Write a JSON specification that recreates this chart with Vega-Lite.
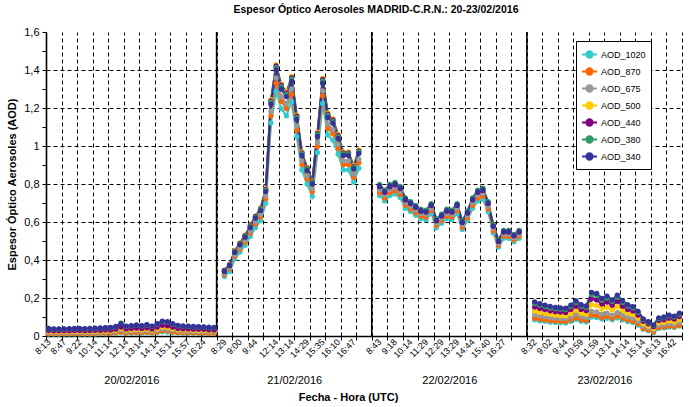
{
  "$schema": "https://vega.github.io/schema/vega-lite/v6.json",
  "width": 636,
  "height": 304,
  "autosize": {"type": "none"},
  "padding": {"left": 46, "top": 32, "right": 10, "bottom": 71},
  "background": "white",
  "config": {
    "font": "Liberation Sans",
    "view": {"stroke": null},
    "axis": {"labelColor": "black", "titleColor": "black", "tickColor": "black", "domainColor": "black"}
  },
  "title": {
    "text": "Espesor Óptico Aerosoles MADRID-C.R.N.: 20-23/02/2016",
    "fontSize": 10.5,
    "fontWeight": "bold",
    "color": "black",
    "anchor": "middle",
    "offset": 11,
    "dx": 12
  },
  "resolve": {"axis": {"x": "independent", "y": "independent"}, "legend": {"color": "independent"}},
  "datasets": {
    "ranks": [
      {"s": "AOD_1020", "r": 0}, {"s": "AOD_870", "r": 1}, {"s": "AOD_675", "r": 2},
      {"s": "AOD_500", "r": 3}, {"s": "AOD_440", "r": 4}, {"s": "AOD_380", "r": 5}, {"s": "AOD_340", "r": 6}
    ],
    "divs": [{"x": 32.5}, {"x": 62.5}, {"x": 92.5}],
    "aod": [
      {"i":0,"d":"1","AOD_1020":0.011,"AOD_870":0.013,"AOD_675":0.019,"AOD_500":0.024,"AOD_440":0.029,"AOD_380":0.038,"AOD_340":0.040},
      {"i":1,"d":"1","AOD_1020":0.011,"AOD_870":0.013,"AOD_675":0.018,"AOD_500":0.023,"AOD_440":0.027,"AOD_380":0.036,"AOD_340":0.038},
      {"i":2,"d":"1","AOD_1020":0.010,"AOD_870":0.012,"AOD_675":0.018,"AOD_500":0.022,"AOD_440":0.027,"AOD_380":0.036,"AOD_340":0.037},
      {"i":3,"d":"1","AOD_1020":0.011,"AOD_870":0.013,"AOD_675":0.018,"AOD_500":0.023,"AOD_440":0.027,"AOD_380":0.036,"AOD_340":0.038},
      {"i":4,"d":"1","AOD_1020":0.011,"AOD_870":0.013,"AOD_675":0.019,"AOD_500":0.023,"AOD_440":0.028,"AOD_380":0.037,"AOD_340":0.039},
      {"i":5,"d":"1","AOD_1020":0.011,"AOD_870":0.013,"AOD_675":0.019,"AOD_500":0.024,"AOD_440":0.029,"AOD_380":0.038,"AOD_340":0.040},
      {"i":6,"d":"1","AOD_1020":0.011,"AOD_870":0.013,"AOD_675":0.019,"AOD_500":0.024,"AOD_440":0.029,"AOD_380":0.038,"AOD_340":0.040},
      {"i":7,"d":"1","AOD_1020":0.011,"AOD_870":0.013,"AOD_675":0.019,"AOD_500":0.023,"AOD_440":0.028,"AOD_380":0.037,"AOD_340":0.039},
      {"i":8,"d":"1","AOD_1020":0.011,"AOD_870":0.013,"AOD_675":0.019,"AOD_500":0.024,"AOD_440":0.029,"AOD_380":0.038,"AOD_340":0.040},
      {"i":9,"d":"1","AOD_1020":0.011,"AOD_870":0.014,"AOD_675":0.020,"AOD_500":0.025,"AOD_440":0.030,"AOD_380":0.039,"AOD_340":0.041},
      {"i":10,"d":"1","AOD_1020":0.012,"AOD_870":0.014,"AOD_675":0.020,"AOD_500":0.025,"AOD_440":0.030,"AOD_380":0.040,"AOD_340":0.042},
      {"i":11,"d":"1","AOD_1020":0.012,"AOD_870":0.015,"AOD_675":0.021,"AOD_500":0.026,"AOD_440":0.032,"AOD_380":0.042,"AOD_340":0.044},
      {"i":12,"d":"1","AOD_1020":0.013,"AOD_870":0.015,"AOD_675":0.022,"AOD_500":0.027,"AOD_440":0.032,"AOD_380":0.043,"AOD_340":0.045},
      {"i":13,"d":"1","AOD_1020":0.014,"AOD_870":0.017,"AOD_675":0.024,"AOD_500":0.030,"AOD_440":0.036,"AOD_380":0.048,"AOD_340":0.050},
      {"i":14,"d":"1","AOD_1020":0.018,"AOD_870":0.021,"AOD_675":0.031,"AOD_500":0.039,"AOD_440":0.047,"AOD_380":0.068,"AOD_340":0.065},
      {"i":15,"d":"1","AOD_1020":0.015,"AOD_870":0.017,"AOD_675":0.025,"AOD_500":0.031,"AOD_440":0.037,"AOD_380":0.050,"AOD_340":0.052},
      {"i":16,"d":"1","AOD_1020":0.015,"AOD_870":0.018,"AOD_675":0.026,"AOD_500":0.033,"AOD_440":0.040,"AOD_380":0.053,"AOD_340":0.055},
      {"i":17,"d":"1","AOD_1020":0.016,"AOD_870":0.019,"AOD_675":0.028,"AOD_500":0.035,"AOD_440":0.042,"AOD_380":0.056,"AOD_340":0.058},
      {"i":18,"d":"1","AOD_1020":0.015,"AOD_870":0.018,"AOD_675":0.026,"AOD_500":0.033,"AOD_440":0.040,"AOD_380":0.053,"AOD_340":0.055},
      {"i":19,"d":"1","AOD_1020":0.017,"AOD_870":0.020,"AOD_675":0.029,"AOD_500":0.036,"AOD_440":0.043,"AOD_380":0.058,"AOD_340":0.060},
      {"i":20,"d":"1","AOD_1020":0.015,"AOD_870":0.017,"AOD_675":0.025,"AOD_500":0.031,"AOD_440":0.037,"AOD_380":0.050,"AOD_340":0.052},
      {"i":21,"d":"1","AOD_1020":0.018,"AOD_870":0.021,"AOD_675":0.031,"AOD_500":0.039,"AOD_440":0.047,"AOD_380":0.062,"AOD_340":0.065},
      {"i":22,"d":"1","AOD_1020":0.022,"AOD_870":0.028,"AOD_675":0.037,"AOD_500":0.047,"AOD_440":0.056,"AOD_380":0.075,"AOD_340":0.078},
      {"i":23,"d":"1","AOD_1020":0.021,"AOD_870":0.027,"AOD_675":0.036,"AOD_500":0.045,"AOD_440":0.054,"AOD_380":0.072,"AOD_340":0.075},
      {"i":24,"d":"1","AOD_1020":0.018,"AOD_870":0.021,"AOD_675":0.031,"AOD_500":0.039,"AOD_440":0.047,"AOD_380":0.062,"AOD_340":0.065},
      {"i":25,"d":"1","AOD_1020":0.016,"AOD_870":0.018,"AOD_675":0.027,"AOD_500":0.034,"AOD_440":0.040,"AOD_380":0.054,"AOD_340":0.056},
      {"i":26,"d":"1","AOD_1020":0.015,"AOD_870":0.017,"AOD_675":0.025,"AOD_500":0.032,"AOD_440":0.038,"AOD_380":0.051,"AOD_340":0.053},
      {"i":27,"d":"1","AOD_1020":0.015,"AOD_870":0.017,"AOD_675":0.025,"AOD_500":0.031,"AOD_440":0.037,"AOD_380":0.050,"AOD_340":0.052},
      {"i":28,"d":"1","AOD_1020":0.014,"AOD_870":0.017,"AOD_675":0.024,"AOD_500":0.030,"AOD_440":0.036,"AOD_380":0.048,"AOD_340":0.050},
      {"i":29,"d":"1","AOD_1020":0.014,"AOD_870":0.016,"AOD_675":0.024,"AOD_500":0.029,"AOD_440":0.035,"AOD_380":0.047,"AOD_340":0.049},
      {"i":30,"d":"1","AOD_1020":0.013,"AOD_870":0.016,"AOD_675":0.023,"AOD_500":0.029,"AOD_440":0.035,"AOD_380":0.046,"AOD_340":0.048},
      {"i":31,"d":"1","AOD_1020":0.013,"AOD_870":0.015,"AOD_675":0.022,"AOD_500":0.028,"AOD_440":0.033,"AOD_380":0.044,"AOD_340":0.046},
      {"i":32,"d":"1","AOD_1020":0.013,"AOD_870":0.015,"AOD_675":0.022,"AOD_500":0.027,"AOD_440":0.032,"AOD_380":0.043,"AOD_340":0.045},
      {"i":34,"d":"2","AOD_1020":0.313,"AOD_870":0.323,"AOD_675":0.330,"AOD_500":0.347,"AOD_440":0.345,"AOD_380":0.343,"AOD_340":0.34},
      {"i":35,"d":"2","AOD_1020":0.340,"AOD_870":0.352,"AOD_675":0.359,"AOD_500":0.377,"AOD_440":0.376,"AOD_380":0.374,"AOD_340":0.37},
      {"i":36,"d":"2","AOD_1020":0.405,"AOD_870":0.418,"AOD_675":0.427,"AOD_500":0.449,"AOD_440":0.447,"AOD_380":0.444,"AOD_340":0.44},
      {"i":37,"d":"2","AOD_1020":0.442,"AOD_870":0.456,"AOD_675":0.466,"AOD_500":0.490,"AOD_440":0.487,"AOD_380":0.485,"AOD_340":0.48},
      {"i":38,"d":"2","AOD_1020":0.478,"AOD_870":0.494,"AOD_675":0.504,"AOD_500":0.530,"AOD_440":0.528,"AOD_380":0.525,"AOD_340":0.52},
      {"i":39,"d":"2","AOD_1020":0.524,"AOD_870":0.542,"AOD_675":0.553,"AOD_500":0.581,"AOD_440":0.579,"AOD_380":0.576,"AOD_340":0.57},
      {"i":40,"d":"2","AOD_1020":0.570,"AOD_870":0.589,"AOD_675":0.601,"AOD_500":0.632,"AOD_440":0.629,"AOD_380":0.626,"AOD_340":0.62},
      {"i":41,"d":"2","AOD_1020":0.607,"AOD_870":0.627,"AOD_675":0.640,"AOD_500":0.673,"AOD_440":0.670,"AOD_380":0.667,"AOD_340":0.66},
      {"i":42,"d":"2","AOD_1020":0.699,"AOD_870":0.722,"AOD_675":0.737,"AOD_500":0.775,"AOD_440":0.771,"AOD_380":0.768,"AOD_340":0.76},
      {"i":43,"d":"2","AOD_1020":1.122,"AOD_870":1.159,"AOD_675":1.183,"AOD_500":1.244,"AOD_440":1.238,"AOD_380":1.232,"AOD_340":1.22},
      {"i":44,"d":"2","AOD_1020":1.288,"AOD_870":1.33,"AOD_675":1.358,"AOD_500":1.428,"AOD_440":1.421,"AOD_380":1.414,"AOD_340":1.40},
      {"i":45,"d":"2","AOD_1020":1.196,"AOD_870":1.235,"AOD_675":1.261,"AOD_500":1.326,"AOD_440":1.32,"AOD_380":1.313,"AOD_340":1.30},
      {"i":46,"d":"2","AOD_1020":1.159,"AOD_870":1.197,"AOD_675":1.222,"AOD_500":1.285,"AOD_440":1.279,"AOD_380":1.273,"AOD_340":1.26},
      {"i":47,"d":"2","AOD_1020":1.233,"AOD_870":1.273,"AOD_675":1.30,"AOD_500":1.367,"AOD_440":1.36,"AOD_380":1.353,"AOD_340":1.34},
      {"i":48,"d":"2","AOD_1020":1.049,"AOD_870":1.083,"AOD_675":1.106,"AOD_500":1.163,"AOD_440":1.157,"AOD_380":1.151,"AOD_340":1.14},
      {"i":49,"d":"2","AOD_1020":0.874,"AOD_870":0.903,"AOD_675":0.922,"AOD_500":0.969,"AOD_440":0.964,"AOD_380":0.96,"AOD_340":0.95},
      {"i":50,"d":"2","AOD_1020":0.80,"AOD_870":0.827,"AOD_675":0.844,"AOD_500":0.887,"AOD_440":0.883,"AOD_380":0.879,"AOD_340":0.87},
      {"i":51,"d":"2","AOD_1020":0.736,"AOD_870":0.76,"AOD_675":0.776,"AOD_500":0.816,"AOD_440":0.812,"AOD_380":0.808,"AOD_340":0.80},
      {"i":52,"d":"2","AOD_1020":0.966,"AOD_870":0.998,"AOD_675":1.019,"AOD_500":1.071,"AOD_440":1.066,"AOD_380":1.061,"AOD_340":1.05},
      {"i":53,"d":"2","AOD_1020":1.224,"AOD_870":1.264,"AOD_675":1.29,"AOD_500":1.357,"AOD_440":1.35,"AOD_380":1.343,"AOD_340":1.33},
      {"i":54,"d":"2","AOD_1020":1.058,"AOD_870":1.093,"AOD_675":1.116,"AOD_500":1.173,"AOD_440":1.167,"AOD_380":1.162,"AOD_340":1.15},
      {"i":55,"d":"2","AOD_1020":1.03,"AOD_870":1.064,"AOD_675":1.086,"AOD_500":1.142,"AOD_440":1.137,"AOD_380":1.131,"AOD_340":1.12},
      {"i":56,"d":"2","AOD_1020":0.957,"AOD_870":0.988,"AOD_675":1.009,"AOD_500":1.061,"AOD_440":1.056,"AOD_380":1.05,"AOD_340":1.04},
      {"i":57,"d":"2","AOD_1020":0.874,"AOD_870":0.903,"AOD_675":0.922,"AOD_500":0.969,"AOD_440":0.964,"AOD_380":0.96,"AOD_340":0.95},
      {"i":58,"d":"2","AOD_1020":0.874,"AOD_870":0.903,"AOD_675":0.922,"AOD_500":0.969,"AOD_440":0.964,"AOD_380":0.96,"AOD_340":0.95},
      {"i":59,"d":"2","AOD_1020":0.81,"AOD_870":0.836,"AOD_675":0.854,"AOD_500":0.898,"AOD_440":0.893,"AOD_380":0.889,"AOD_340":0.88},
      {"i":60,"d":"2","AOD_1020":0.883,"AOD_870":0.912,"AOD_675":0.931,"AOD_500":0.979,"AOD_440":0.974,"AOD_380":0.97,"AOD_340":0.96},
      {"i":64,"d":"3","AOD_1020":0.739,"AOD_870":0.754,"AOD_675":0.770,"AOD_500":0.794,"AOD_440":0.786,"AOD_380":0.798,"AOD_340":0.79},
      {"i":65,"d":"3","AOD_1020":0.711,"AOD_870":0.726,"AOD_675":0.741,"AOD_500":0.764,"AOD_440":0.756,"AOD_380":0.768,"AOD_340":0.76},
      {"i":66,"d":"3","AOD_1020":0.739,"AOD_870":0.754,"AOD_675":0.770,"AOD_500":0.794,"AOD_440":0.786,"AOD_380":0.798,"AOD_340":0.79},
      {"i":67,"d":"3","AOD_1020":0.748,"AOD_870":0.764,"AOD_675":0.780,"AOD_500":0.804,"AOD_440":0.796,"AOD_380":0.808,"AOD_340":0.80},
      {"i":68,"d":"3","AOD_1020":0.729,"AOD_870":0.745,"AOD_675":0.761,"AOD_500":0.784,"AOD_440":0.776,"AOD_380":0.788,"AOD_340":0.78},
      {"i":69,"d":"3","AOD_1020":0.673,"AOD_870":0.688,"AOD_675":0.702,"AOD_500":0.724,"AOD_440":0.716,"AOD_380":0.727,"AOD_340":0.72},
      {"i":70,"d":"3","AOD_1020":0.655,"AOD_870":0.669,"AOD_675":0.683,"AOD_500":0.704,"AOD_440":0.697,"AOD_380":0.707,"AOD_340":0.70},
      {"i":71,"d":"3","AOD_1020":0.636,"AOD_870":0.649,"AOD_675":0.663,"AOD_500":0.683,"AOD_440":0.677,"AOD_380":0.687,"AOD_340":0.68},
      {"i":72,"d":"3","AOD_1020":0.617,"AOD_870":0.630,"AOD_675":0.644,"AOD_500":0.663,"AOD_440":0.657,"AOD_380":0.667,"AOD_340":0.66},
      {"i":73,"d":"3","AOD_1020":0.612,"AOD_870":0.626,"AOD_675":0.639,"AOD_500":0.658,"AOD_440":0.652,"AOD_380":0.662,"AOD_340":0.655},
      {"i":74,"d":"3","AOD_1020":0.645,"AOD_870":0.659,"AOD_675":0.673,"AOD_500":0.693,"AOD_440":0.687,"AOD_380":0.697,"AOD_340":0.69},
      {"i":75,"d":"3","AOD_1020":0.570,"AOD_870":0.583,"AOD_675":0.595,"AOD_500":0.613,"AOD_440":0.607,"AOD_380":0.616,"AOD_340":0.61},
      {"i":76,"d":"3","AOD_1020":0.594,"AOD_870":0.606,"AOD_675":0.619,"AOD_500":0.638,"AOD_440":0.632,"AOD_380":0.641,"AOD_340":0.635},
      {"i":77,"d":"3","AOD_1020":0.617,"AOD_870":0.630,"AOD_675":0.644,"AOD_500":0.663,"AOD_440":0.657,"AOD_380":0.667,"AOD_340":0.66},
      {"i":78,"d":"3","AOD_1020":0.612,"AOD_870":0.626,"AOD_675":0.639,"AOD_500":0.658,"AOD_440":0.652,"AOD_380":0.662,"AOD_340":0.655},
      {"i":79,"d":"3","AOD_1020":0.645,"AOD_870":0.659,"AOD_675":0.673,"AOD_500":0.693,"AOD_440":0.687,"AOD_380":0.697,"AOD_340":0.69},
      {"i":80,"d":"3","AOD_1020":0.561,"AOD_870":0.573,"AOD_675":0.585,"AOD_500":0.603,"AOD_440":0.597,"AOD_380":0.606,"AOD_340":0.60},
      {"i":81,"d":"3","AOD_1020":0.608,"AOD_870":0.621,"AOD_675":0.634,"AOD_500":0.653,"AOD_440":0.647,"AOD_380":0.657,"AOD_340":0.65},
      {"i":82,"d":"3","AOD_1020":0.673,"AOD_870":0.688,"AOD_675":0.702,"AOD_500":0.724,"AOD_440":0.716,"AOD_380":0.727,"AOD_340":0.72},
      {"i":83,"d":"3","AOD_1020":0.711,"AOD_870":0.726,"AOD_675":0.741,"AOD_500":0.764,"AOD_440":0.756,"AOD_380":0.768,"AOD_340":0.76},
      {"i":84,"d":"3","AOD_1020":0.720,"AOD_870":0.735,"AOD_675":0.751,"AOD_500":0.774,"AOD_440":0.766,"AOD_380":0.778,"AOD_340":0.77},
      {"i":85,"d":"3","AOD_1020":0.655,"AOD_870":0.669,"AOD_675":0.683,"AOD_500":0.704,"AOD_440":0.697,"AOD_380":0.707,"AOD_340":0.70},
      {"i":86,"d":"3","AOD_1020":0.542,"AOD_870":0.554,"AOD_675":0.566,"AOD_500":0.583,"AOD_440":0.577,"AOD_380":0.586,"AOD_340":0.58},
      {"i":87,"d":"3","AOD_1020":0.468,"AOD_870":0.478,"AOD_675":0.488,"AOD_500":0.503,"AOD_440":0.498,"AOD_380":0.505,"AOD_340":0.50},
      {"i":88,"d":"3","AOD_1020":0.514,"AOD_870":0.525,"AOD_675":0.536,"AOD_500":0.553,"AOD_440":0.547,"AOD_380":0.556,"AOD_340":0.55},
      {"i":89,"d":"3","AOD_1020":0.514,"AOD_870":0.525,"AOD_675":0.536,"AOD_500":0.553,"AOD_440":0.547,"AOD_380":0.556,"AOD_340":0.55},
      {"i":90,"d":"3","AOD_1020":0.496,"AOD_870":0.506,"AOD_675":0.517,"AOD_500":0.533,"AOD_440":0.527,"AOD_380":0.535,"AOD_340":0.53},
      {"i":91,"d":"3","AOD_1020":0.514,"AOD_870":0.525,"AOD_675":0.536,"AOD_500":0.553,"AOD_440":0.547,"AOD_380":0.556,"AOD_340":0.55},
      {"i":94,"d":"4","AOD_1020":0.085,"AOD_870":0.094,"AOD_675":0.112,"AOD_500":0.131,"AOD_440":0.153,"AOD_380":0.171,"AOD_340":0.18},
      {"i":95,"d":"4","AOD_1020":0.080,"AOD_870":0.088,"AOD_675":0.105,"AOD_500":0.124,"AOD_440":0.145,"AOD_380":0.162,"AOD_340":0.17},
      {"i":96,"d":"4","AOD_1020":0.077,"AOD_870":0.085,"AOD_675":0.101,"AOD_500":0.119,"AOD_440":0.139,"AOD_380":0.155,"AOD_340":0.163},
      {"i":97,"d":"4","AOD_1020":0.073,"AOD_870":0.081,"AOD_675":0.097,"AOD_500":0.114,"AOD_440":0.133,"AOD_380":0.148,"AOD_340":0.156},
      {"i":98,"d":"4","AOD_1020":0.071,"AOD_870":0.078,"AOD_675":0.093,"AOD_500":0.110,"AOD_440":0.128,"AOD_380":0.143,"AOD_340":0.150},
      {"i":99,"d":"4","AOD_1020":0.070,"AOD_870":0.077,"AOD_675":0.092,"AOD_500":0.108,"AOD_440":0.126,"AOD_380":0.141,"AOD_340":0.148},
      {"i":100,"d":"4","AOD_1020":0.069,"AOD_870":0.076,"AOD_675":0.091,"AOD_500":0.107,"AOD_440":0.124,"AOD_380":0.139,"AOD_340":0.146},
      {"i":101,"d":"4","AOD_1020":0.077,"AOD_870":0.085,"AOD_675":0.101,"AOD_500":0.119,"AOD_440":0.139,"AOD_380":0.155,"AOD_340":0.163},
      {"i":102,"d":"4","AOD_1020":0.087,"AOD_870":0.096,"AOD_675":0.115,"AOD_500":0.135,"AOD_440":0.157,"AOD_380":0.176,"AOD_340":0.185},
      {"i":103,"d":"4","AOD_1020":0.078,"AOD_870":0.086,"AOD_675":0.102,"AOD_500":0.120,"AOD_440":0.140,"AOD_380":0.157,"AOD_340":0.165},
      {"i":104,"d":"4","AOD_1020":0.074,"AOD_870":0.082,"AOD_675":0.098,"AOD_500":0.115,"AOD_440":0.134,"AOD_380":0.150,"AOD_340":0.158},
      {"i":105,"d":"4","AOD_1020":0.100,"AOD_870":0.110,"AOD_675":0.130,"AOD_500":0.165,"AOD_440":0.196,"AOD_380":0.218,"AOD_340":0.230},
      {"i":106,"d":"4","AOD_1020":0.098,"AOD_870":0.108,"AOD_675":0.127,"AOD_500":0.160,"AOD_440":0.190,"AOD_380":0.213,"AOD_340":0.224},
      {"i":107,"d":"4","AOD_1020":0.089,"AOD_870":0.098,"AOD_675":0.115,"AOD_500":0.142,"AOD_440":0.168,"AOD_380":0.188,"AOD_340":0.198},
      {"i":108,"d":"4","AOD_1020":0.093,"AOD_870":0.103,"AOD_675":0.120,"AOD_500":0.151,"AOD_440":0.179,"AOD_380":0.200,"AOD_340":0.210},
      {"i":109,"d":"4","AOD_1020":0.086,"AOD_870":0.094,"AOD_675":0.110,"AOD_500":0.137,"AOD_440":0.162,"AOD_380":0.181,"AOD_340":0.190},
      {"i":110,"d":"4","AOD_1020":0.095,"AOD_870":0.105,"AOD_675":0.124,"AOD_500":0.155,"AOD_440":0.183,"AOD_380":0.204,"AOD_340":0.215},
      {"i":111,"d":"4","AOD_1020":0.085,"AOD_870":0.093,"AOD_675":0.110,"AOD_500":0.134,"AOD_440":0.157,"AOD_380":0.176,"AOD_340":0.185},
      {"i":112,"d":"4","AOD_1020":0.076,"AOD_870":0.084,"AOD_675":0.099,"AOD_500":0.120,"AOD_440":0.140,"AOD_380":0.157,"AOD_340":0.165},
      {"i":113,"d":"4","AOD_1020":0.071,"AOD_870":0.078,"AOD_675":0.093,"AOD_500":0.113,"AOD_440":0.132,"AOD_380":0.147,"AOD_340":0.155},
      {"i":114,"d":"4","AOD_1020":0.058,"AOD_870":0.064,"AOD_675":0.078,"AOD_500":0.094,"AOD_440":0.110,"AOD_380":0.124,"AOD_340":0.130},
      {"i":115,"d":"4","AOD_1020":0.036,"AOD_870":0.040,"AOD_675":0.052,"AOD_500":0.064,"AOD_440":0.077,"AOD_380":0.086,"AOD_340":0.090},
      {"i":116,"d":"4","AOD_1020":0.028,"AOD_870":0.031,"AOD_675":0.042,"AOD_500":0.053,"AOD_440":0.064,"AOD_380":0.071,"AOD_340":0.075},
      {"i":117,"d":"4","AOD_1020":0.019,"AOD_870":0.022,"AOD_675":0.032,"AOD_500":0.040,"AOD_440":0.049,"AOD_380":0.055,"AOD_340":0.058},
      {"i":118,"d":"4","AOD_1020":0.040,"AOD_870":0.045,"AOD_675":0.056,"AOD_500":0.068,"AOD_440":0.081,"AOD_380":0.090,"AOD_340":0.095},
      {"i":119,"d":"4","AOD_1020":0.043,"AOD_870":0.048,"AOD_675":0.059,"AOD_500":0.072,"AOD_440":0.085,"AOD_380":0.095,"AOD_340":0.100},
      {"i":120,"d":"4","AOD_1020":0.047,"AOD_870":0.052,"AOD_675":0.065,"AOD_500":0.079,"AOD_440":0.094,"AOD_380":0.105,"AOD_340":0.110},
      {"i":121,"d":"4","AOD_1020":0.045,"AOD_870":0.050,"AOD_675":0.062,"AOD_500":0.075,"AOD_440":0.089,"AOD_380":0.100,"AOD_340":0.105},
      {"i":122,"d":"4","AOD_1020":0.052,"AOD_870":0.057,"AOD_675":0.071,"AOD_500":0.086,"AOD_440":0.102,"AOD_380":0.114,"AOD_340":0.120}
    ]
  },
  "layer": [
    {
      "data": {"name": "divs"},
      "mark": {"type": "rule", "color": "black", "strokeWidth": 1.6},
      "encoding": {
        "x": {
          "field": "x", "type": "quantitative",
          "scale": {"domain": [-0.5, 122.5], "nice": false, "zero": false},
          "axis": {
            "orient": "bottom",
            "values": [-0.5, 2.5, 5.5, 8.5, 11.5, 14.5, 17.5, 20.5, 23.5, 26.5, 29.5, 32.5, 35.5, 38.5, 41.5, 44.5, 47.5, 50.5, 53.5, 56.5, 59.5, 62.5, 65.5, 68.5, 71.5, 74.5, 77.5, 80.5, 83.5, 86.5, 89.5, 92.5, 95.5, 98.5, 101.5, 104.5, 107.5, 110.5, 113.5, 116.5, 119.5, 122.5],
            "labels": false,
            "ticks": true, "tickSize": 4, "tickWidth": 1,
            "grid": true, "gridColor": "black", "gridDash": [4, 3], "gridWidth": 1, "gridOpacity": 1,
            "domain": true, "domainWidth": 1.6,
            "title": "Fecha - Hora (UTC)",
            "titleFontSize": 11, "titleFontWeight": "bold",
            "titlePadding": 51,
            "titleX": 302
          }
        }
      }
    },
    {
      "data": {"name": "aod"},
      "transform": [
        {"fold": ["AOD_1020", "AOD_870", "AOD_675", "AOD_500", "AOD_440", "AOD_380", "AOD_340"], "as": ["s", "v"]}
      ],
      "mark": {"type": "line", "strokeWidth": 2.2},
      "encoding": {
        "x": {
          "field": "i", "type": "quantitative",
          "scale": {"domain": [-0.5, 122.5], "nice": false, "zero": false},
          "axis": {
            "orient": "bottom",
            "values": [0, 3, 6, 9, 12, 15, 18, 21, 24, 27, 30, 34, 37, 40, 44, 47, 50, 53, 56, 59, 64, 67, 70, 73, 76, 79, 82, 85, 88, 94, 97, 100, 103, 106, 109, 112, 115, 118, 121],
            "labelExpr": "['8:13','8:47','9:22','10:14','11:14','12:14','13:14','14:14','15:14','15:57','16:24','8:29','9:00','9:44','12:14','13:14','14:29','15:35','16:10','16:47','8:43','9:18','10:14','11:29','12:29','13:29','14:44','15:40','16:27','8:32','9:02','9:44','10:59','11:59','13:14','14:14','15:14','16:13','16:42'][indexof([0,3,6,9,12,15,18,21,24,27,30,34,37,40,44,47,50,53,56,59,64,67,70,73,76,79,82,85,88,94,97,100,103,106,109,112,115,118,121], datum.value)]",
            "labelAngle": -45, "labelAlign": "right", "labelBaseline": "middle",
            "labelFontSize": 9, "labelPadding": 4,
            "labelOverlap": false, "labelFlush": false, "labelBound": false,
            "ticks": false, "grid": false, "domain": false, "title": null
          }
        },
        "y": {
          "field": "v", "type": "quantitative",
          "scale": {"domain": [0, 1.6], "nice": false},
          "axis": {
            "orient": "left",
            "values": [0, 0.1, 0.2, 0.3, 0.4, 0.5, 0.6, 0.7, 0.8, 0.9, 1, 1.1, 1.2, 1.3, 1.4, 1.5, 1.6],
            "labelExpr": "round(datum.value * 10) % 2 == 0 ? replace(format(datum.value, '.1~f'), '.', ',') : ''",
            "labelFontSize": 11, "labelPadding": 3,
            "ticks": true, "tickSize": 4, "tickWidth": 1,
            "grid": false, "domain": true, "domainWidth": 1.6,
            "title": "Espesor Óptico Aerosoles (AOD)",
            "titleFontSize": 11, "titleFontWeight": "bold", "titlePadding": 6
          }
        },
        "color": {
          "field": "s", "type": "nominal",
          "scale": {
            "domain": ["AOD_1020", "AOD_870", "AOD_675", "AOD_500", "AOD_440", "AOD_380", "AOD_340"],
            "range": ["#33CCCC", "#FF6600", "#999999", "#FFCC00", "#800080", "#339966", "#333399"]
          },
          "legend": null
        },
        "detail": {"field": "d", "type": "nominal"}
      }
    },
    {
      "data": {"name": "aod"},
      "transform": [
        {"fold": ["AOD_1020", "AOD_870", "AOD_675", "AOD_500", "AOD_440", "AOD_380", "AOD_340"], "as": ["s", "v"]},
        {"lookup": "s", "from": {"data": {"name": "ranks"}, "key": "s", "fields": ["r"]}}
      ],
      "mark": {"type": "circle", "size": 28, "opacity": 1},
      "encoding": {
        "x": {
          "field": "i", "type": "quantitative",
          "scale": {"domain": [-0.5, 122.5], "nice": false, "zero": false},
          "axis": {
            "orient": "bottom",
            "values": [16, 47.5, 77.5, 107.5],
            "labelExpr": "['20/02/2016','21/02/2016','22/02/2016','23/02/2016'][indexof([16,47.5,77.5,107.5], datum.value)]",
            "labelAngle": 0, "labelAlign": "center", "labelBaseline": "top",
            "labelFontSize": 11, "labelPadding": 38,
            "labelOverlap": false, "labelFlush": false,
            "ticks": false, "grid": false, "domain": false, "title": null
          }
        },
        "y": {
          "field": "v", "type": "quantitative",
          "scale": {"domain": [0, 1.6], "nice": false},
          "axis": {
            "orient": "left",
            "values": [0.2, 0.4, 0.6, 0.8, 1, 1.2, 1.4],
            "labels": false, "ticks": false, "domain": false, "title": null,
            "grid": true, "gridColor": "black", "gridDash": [4, 3], "gridWidth": 1, "gridOpacity": 1
          }
        },
        "color": {
          "field": "s", "type": "nominal",
          "scale": {
            "domain": ["AOD_1020", "AOD_870", "AOD_675", "AOD_500", "AOD_440", "AOD_380", "AOD_340"],
            "range": ["#33CCCC", "#FF6600", "#999999", "#FFCC00", "#800080", "#339966", "#333399"]
          },
          "legend": {
            "title": null,
            "orient": "none",
            "legendX": 530,
            "legendY": 9,
            "direction": "vertical",
            "fillColor": "white",
            "strokeColor": "black",
            "padding": 5,
            "labelFontSize": 9,
            "labelColor": "black",
            "labelOffset": 3,
            "rowPadding": 1,
            "symbolType": "M-1,0H1M-0.42,0A0.42,0.42 0 1 1 0.42,0A0.42,0.42 0 1 1 -0.42,0Z",
            "symbolSize": 225,
            "symbolStrokeWidth": 2,
            "symbolOpacity": 1,
            "encode": {
              "symbols": {
                "update": {
                  "fill": {"scale": "color", "field": "value"},
                  "stroke": {"scale": "color", "field": "value"}
                }
              }
            }
          }
        },
        "order": {"field": "r", "type": "quantitative"}
      }
    }
  ]
}
